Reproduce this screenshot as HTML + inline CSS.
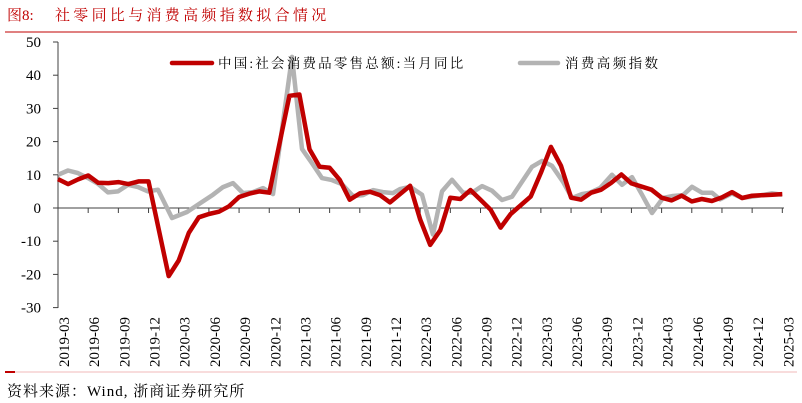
<!DOCTYPE html>
<html><head><meta charset="utf-8"><style>
html,body{margin:0;padding:0;background:#fff;}
svg{display:block;font-family:"Liberation Serif","Noto Serif CJK SC",serif;}
</style></head><body>
<svg id="s" width="802" height="403" viewBox="0 0 802 403" xmlns="http://www.w3.org/2000/svg">
<text x="7" y="20" font-size="15" fill="#C00000">图8:</text>
<text x="55" y="20" font-size="15" fill="#C00000" letter-spacing="3.3">社零同比与消费高频指数拟合情况</text>
<line x1="5" y1="32" x2="797" y2="32" stroke="#C00000" stroke-width="1"/>
<g id="ax" stroke="#404040" stroke-width="1"></g>
<g id="yl" font-size="15" fill="#000" text-anchor="end"></g>
<g id="xl" font-size="15" fill="#000"></g>
<polyline id="gray" fill="none" stroke="#B3B3B3" stroke-width="4.5" stroke-linejoin="round"/>
<polyline id="red" fill="none" stroke="#C00000" stroke-width="4.5" stroke-linejoin="round"/>
<line x1="172" y1="63" x2="212" y2="63" stroke="#C00000" stroke-width="4.5" stroke-linecap="round"/>
<text x="218" y="68" font-size="13.5" letter-spacing="2.2" fill="#000">中国:社会消费品零售总额:当月同比</text>
<line x1="520" y1="63" x2="558" y2="63" stroke="#B3B3B3" stroke-width="4.5" stroke-linecap="round"/>
<text x="565" y="68" font-size="13.5" letter-spacing="2.4" fill="#000">消费高频指数</text>
<line x1="5" y1="372" x2="797" y2="372" stroke="#F2B8B8" stroke-width="1"/>
<line x1="5" y1="372" x2="15" y2="372" stroke="#C00000" stroke-width="2"/>
<text x="7" y="396" font-size="15" fill="#000" letter-spacing="1">资料来源：Wind, 浙商证券研究所</text>
</svg>
<script>
var NS="http://www.w3.org/2000/svg";
function el(t,a,p,txt){var e=document.createElementNS(NS,t);for(var k in a)e.setAttribute(k,a[k]);if(txt!=null)e.textContent=txt;p.appendChild(e);return e;}
function Y(v){return 208-v*3.32;}
function X(i){return 58+i*10.06;}
var ax=document.getElementById('ax'),yl=document.getElementById('yl'),xl=document.getElementById('xl');
el('line',{x1:58,y1:42,x2:58,y2:308},ax);
el('line',{x1:58,y1:208,x2:784,y2:208},ax);
for(var v=-30;v<=50;v+=10){el('line',{x1:53,y1:Y(v),x2:58,y2:Y(v)},ax);el('text',{x:41,y:Y(v)+5},yl,String(v));}
var labs=["2019-03","2019-06","2019-09","2019-12","2020-03","2020-06","2020-09","2020-12","2021-03","2021-06","2021-09","2021-12","2022-03","2022-06","2022-09","2022-12","2023-03","2023-06","2023-09","2023-12","2024-03","2024-06","2024-09","2024-12","2025-03"];
for(var k=0;k<25;k++){var tx=58+k*30.18;el('line',{x1:tx,y1:208,x2:tx,y2:213},ax);
var cx=64+k*30.18+5;el('text',{x:cx,y:317,transform:'rotate(-90 '+cx+' 317)','text-anchor':'end'},xl,labs[k]);}
var red={0:8.7,1:7.2,2:8.6,3:9.8,4:7.6,5:7.5,6:7.8,7:7.2,8:8.0,9:8.0,11:-20.5,12:-15.8,13:-7.5,14:-2.8,15:-1.8,16:-1.1,17:0.5,18:3.3,19:4.3,20:5.0,21:4.6,23:33.8,24:34.2,25:17.7,26:12.4,27:12.1,28:8.5,29:2.5,30:4.4,31:4.9,32:3.9,33:1.7,35:6.7,36:-3.5,37:-11.1,38:-6.7,39:3.1,40:2.7,41:5.4,42:2.5,43:-0.5,44:-5.9,45:-1.8,47:3.5,48:10.6,49:18.4,50:12.7,51:3.1,52:2.5,53:4.6,54:5.5,55:7.6,56:10.1,57:7.4,59:5.5,60:3.1,61:2.3,62:3.7,63:2.0,64:2.7,65:2.1,66:3.2,67:4.8,68:3.0,69:3.7,71:4.0,72:4.2};
var rp=[];for(var i=0;i<=72;i++){if(red[i]!==undefined)rp.push(X(i).toFixed(1)+','+Y(red[i]).toFixed(1));}
document.getElementById('red').setAttribute('points',rp.join(' '));
var g=[[58,10],[68,11.3],[78,10.5],[88,9],[98,7.3],[108,4.7],[118,5],[128,7],[138,6.3],[148,5],[158,5.5],[172,-3],[187,-1.2],[202,1.8],[213,4],[223,6.3],[233,7.5],[243,4.5],[253,4.8],[263,6],[273,4.2],[292,45.5],[302,17.8],[312,13.5],[322,9],[332,8.4],[342,7.2],[353,3.6],[363,3.9],[373,5.4],[383,4.8],[393,4.5],[400,5.7],[410,6.4],[422,4],[433,-8],[442,5],[452,8.5],[463,4.6],[472,4.6],[482,6.6],[492,5.2],[502,2.4],[512,3.4],[522,7.9],[532,12.4],[542,14.2],[552,12.7],[563,7.9],[572,3],[582,4.2],[590,4.6],[600,6],[612,10],[622,7],[632,9.3],[642,4],[652,-1.5],[663,3],[673,3.6],[683,3.9],[692,6.4],[702,4.6],[712,4.6],[720,2.6],[732,4.4],[742,3],[752,3.4],[762,3.9],[772,4.4],[782,4]];
document.getElementById('gray').setAttribute('points',g.map(function(p){return p[0]+','+Y(p[1]).toFixed(1);}).join(' '));
</script>
</body></html>
